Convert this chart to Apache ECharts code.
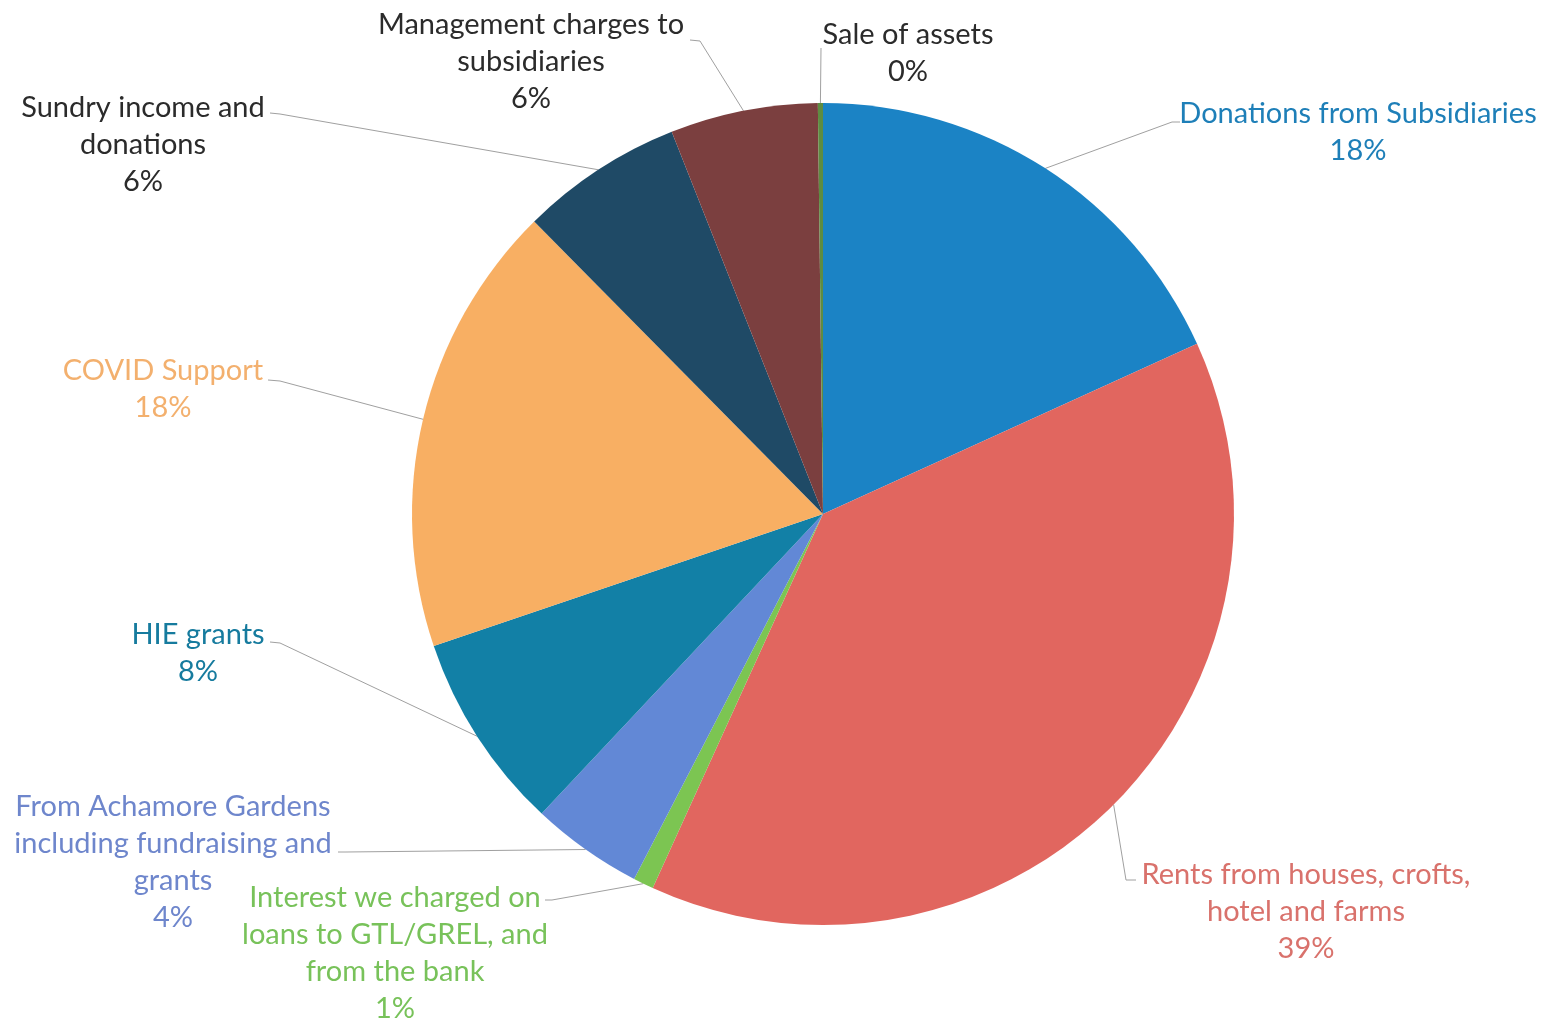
<!DOCTYPE html>
<html>
<head>
<meta charset="utf-8">
<script src="https://cdn.jsdelivr.net/npm/echarts@6/dist/echarts.min.js"></script>
<style>
  html, body { margin: 0; padding: 0; background: #ffffff; }
  #chart { width: 1546px; height: 1019px; }
</style>
</head>
<body>
<div id="chart"></div>
<script>
// ---- data ----
const categories = [
  'Donations from Subsidiaries',
  'Rents from houses, crofts,\nhotel and farms',
  'Interest we charged on\nloans to GTL/GREL, and\nfrom the bank',
  'From Achamore Gardens\nincluding fundraising and\ngrants',
  'HIE grants',
  'COVID Support',
  'Sundry income and\ndonations',
  'Management charges to\nsubsidiaries',
  'Sale of assets'
];
const shares = [18.2, 38.6, 0.8, 4.4, 7.8, 17.8, 6.4, 5.8, 0.2];

// ---- styles ----
const sliceColors = ['#1b83c5', '#e1665f', '#7cc552', '#6288d6', '#1280a6', '#f8af63', '#1f4a66', '#7b3f3f', '#5e8c42'];
const labelColors = ['#1e7fb8', '#d9726c', '#78c25a', '#6e86cc', '#167b9e', '#f3b06e', '#2b2b2b', '#2b2b2b', '#2b2b2b'];
const fontWeights = ['bold', 'normal', 'normal', 'normal', 'bold', 'normal', 'normal', 'normal', 'normal'];
// label placement: text centre x, top y, corner point, attach point
const labelPlacement = [
  { x: 1358, y: 95,  corner: [1172, 122], attach: [1180, 122] },
  { x: 1306, y: 856, corner: [1126, 880], attach: [1136, 880] },
  { x: 395,  y: 879, corner: [552, 900],  attach: [545, 900] },
  { x: 173,  y: 788, corner: [346, 852],  attach: [338, 852] },
  { x: 198,  y: 616, corner: [280, 643],  attach: [270, 642] },
  { x: 163,  y: 352, corner: [280, 381],  attach: [268, 380] },
  { x: 143,  y: 89,  corner: [280, 114],  attach: [270, 113] },
  { x: 531,  y: 6,   corner: [700, 41],   attach: [690, 40] },
  { x: 908,  y: 16,  corner: [821, 48],   attach: [821, 48] }
];

const chart = echarts.init(document.getElementById('chart'), null, { renderer: 'canvas' });

const data = categories.map((name, i) => ({
  name: name,
  value: shares[i],
  itemStyle: { color: sliceColors[i] },
  label: { color: labelColors[i] }
}));

chart.setOption({
  backgroundColor: '#ffffff',
  animation: false,
  series: [{
    type: 'pie',
    center: [823, 514],
    radius: 411,
    startAngle: 90,
    clockwise: true,
    avoidLabelOverlap: false,
    data: data,
    itemStyle: { borderWidth: 0 },
    label: {
      show: true,
      position: 'outside',
      fontFamily: 'Lato',
      fontSize: 29,
      lineHeight: 37,
      align: 'center',
      formatter: function (p) { return p.name + '\n' + Math.round(p.percent) + '%'; }
    },
    labelLine: {
      show: true,
      length: 20,
      length2: 20,
      lineStyle: { color: '#a0a0a0', width: 1 }
    },
    labelLayout: function (params) {
      const pl = labelPlacement[params.dataIndex];
      const pts = params.labelLinePoints;
      const start = pts ? pts[0] : pl.corner;
      return {
        x: pl.x,
        y: pl.y,
        align: 'center',
        verticalAlign: 'top',
        labelLinePoints: [start, pl.corner, pl.attach]
      };
    }
  }]
});
</script>
</body>
</html>
